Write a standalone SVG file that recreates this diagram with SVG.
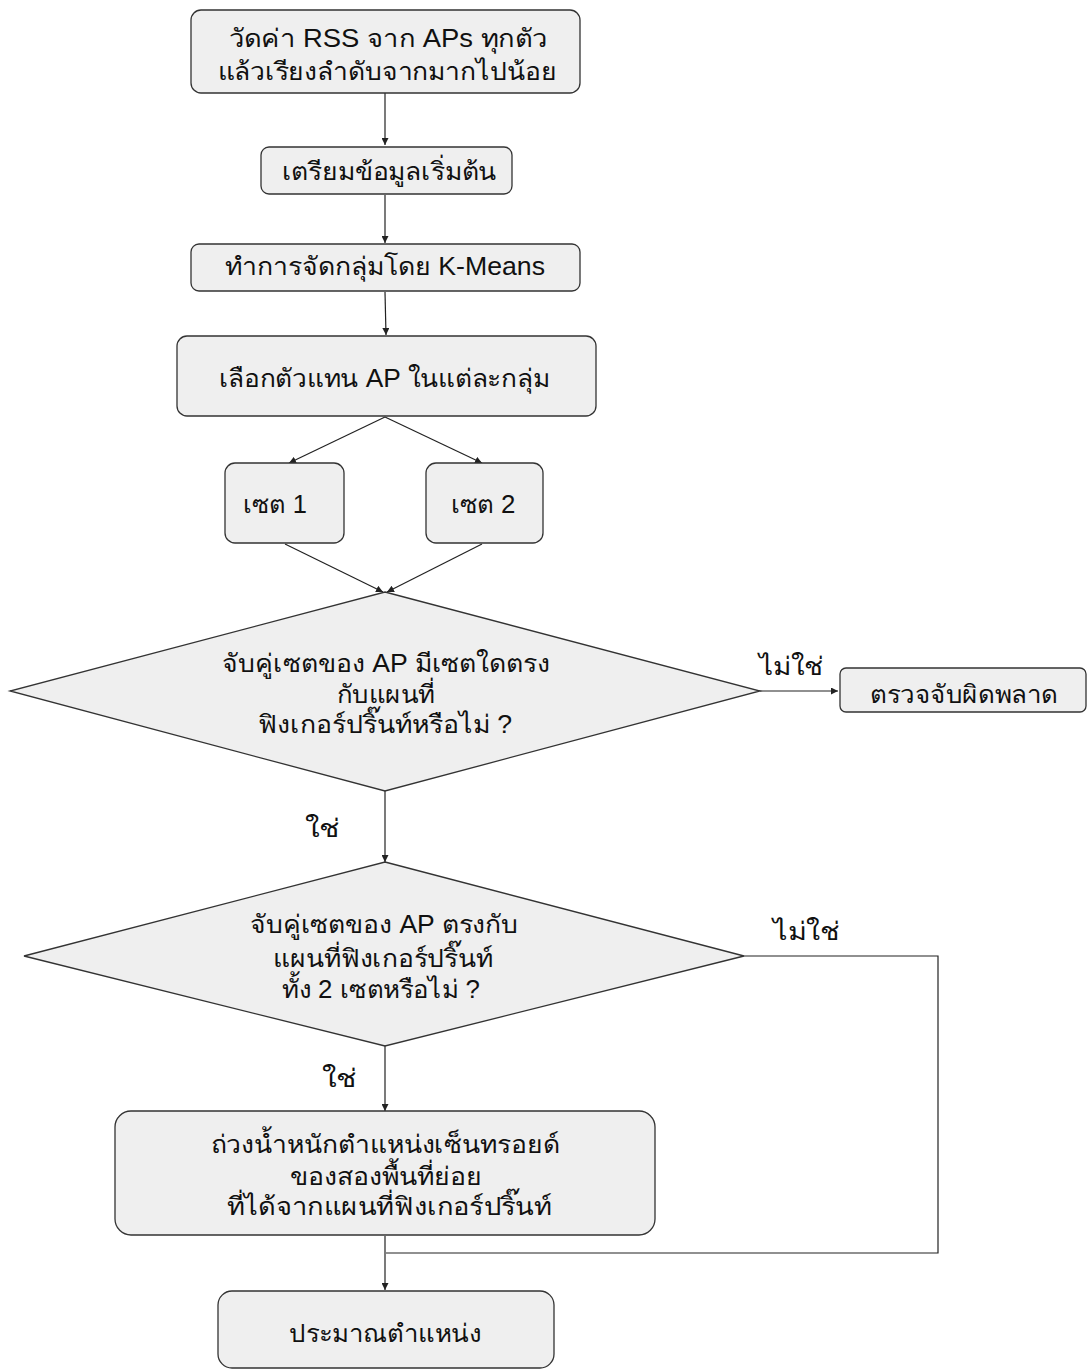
<svg xmlns="http://www.w3.org/2000/svg" width="1088" height="1371" viewBox="0 0 1088 1371">
<style>
.n{fill:#efefef;stroke:#333;stroke-width:1.3}
.t{font-family:"Liberation Sans","Noto Sans",sans-serif;font-size:25px;fill:#111;text-anchor:middle}
.c{fill:none;stroke:#222;stroke-width:1.2}
</style>
<defs>
<marker id="a" viewBox="0 0 10 10" refX="10" refY="5" markerWidth="7" markerHeight="7" orient="auto" markerUnits="userSpaceOnUse"><path d="M0,0L10,5L0,10z" fill="#222"/></marker>
</defs>
<rect width="1088" height="1371" fill="#fff"/>
<g id="connectors">
<path class="c" d="M385,93V145" marker-end="url(#a)"/>
<path class="c" d="M385,195V243" marker-end="url(#a)"/>
<path class="c" d="M385,292L386,335" marker-end="url(#a)"/>
<path class="c" d="M385,417L289,463" marker-end="url(#a)"/>
<path class="c" d="M385,417L482,463" marker-end="url(#a)"/>
<path class="c" d="M285,544L383,592" marker-end="url(#a)"/>
<path class="c" d="M482,544L387,592" marker-end="url(#a)"/>
<path class="c" d="M760,691H838" marker-end="url(#a)"/>
<path class="c" d="M385,791V862" marker-end="url(#a)"/>
<path class="c" d="M744,956H938V1253H386"/>
<path class="c" d="M385,1046V1111" marker-end="url(#a)"/>
<path class="c" d="M385,1236V1290" marker-end="url(#a)"/>
<text class="t" x="791" y="675" textLength="65" lengthAdjust="spacingAndGlyphs">ไม่ใช่</text>
<text class="t" x="322" y="837" textLength="35" lengthAdjust="spacingAndGlyphs">ใช่</text>
<text class="t" x="806" y="940" textLength="67" lengthAdjust="spacingAndGlyphs">ไม่ใช่</text>
<text class="t" x="339" y="1087" textLength="35" lengthAdjust="spacingAndGlyphs">ใช่</text>
</g>
<g id="n1"><rect class="n" x="191" y="10" width="389" height="83" rx="10"/><text class="t" x="388" y="47" textLength="319" lengthAdjust="spacingAndGlyphs">วัดค่า RSS จาก APs ทุกตัว</text><text class="t" x="387" y="80" textLength="339" lengthAdjust="spacingAndGlyphs">แล้วเรียงลำดับจากมากไปน้อย</text></g>
<g id="n2"><rect class="n" x="261" y="147" width="251" height="47" rx="8"/><text class="t" x="389" y="180" textLength="215" lengthAdjust="spacingAndGlyphs">เตรียมข้อมูลเริ่มต้น</text></g>
<g id="n3"><rect class="n" x="191" y="244" width="389" height="47" rx="8"/><text class="t" x="385" y="275" textLength="320" lengthAdjust="spacingAndGlyphs">ทำการจัดกลุ่มโดย K-Means</text></g>
<g id="n4"><rect class="n" x="177" y="336" width="419" height="80" rx="10"/><text class="t" x="384" y="387" textLength="331" lengthAdjust="spacingAndGlyphs">เลือกตัวแทน AP ในแต่ละกลุ่ม</text></g>
<g id="n5"><rect class="n" x="225" y="463" width="119" height="80" rx="10"/><text class="t" x="275" y="513" textLength="64" lengthAdjust="spacingAndGlyphs">เซต 1</text></g>
<g id="n6"><rect class="n" x="426" y="463" width="117" height="80" rx="10"/><text class="t" x="483" y="513" textLength="65" lengthAdjust="spacingAndGlyphs">เซต 2</text></g>
<g id="d1"><polygon class="n" points="385,592 760,691 385,791 10,691"/><text class="t" x="386" y="672" textLength="328" lengthAdjust="spacingAndGlyphs">จับคู่เซตของ AP มีเซตใดตรง</text><text class="t" x="386" y="703" textLength="98" lengthAdjust="spacingAndGlyphs">กับแผนที่</text><text class="t" x="385" y="733" textLength="254" lengthAdjust="spacingAndGlyphs">ฟิงเกอร์ปริ๊นท์หรือไม่ ?</text></g>
<g id="n7"><rect class="n" x="840" y="668" width="246" height="44" rx="6"/><text class="t" x="964" y="703" textLength="188" lengthAdjust="spacingAndGlyphs">ตรวจจับผิดพลาด</text></g>
<g id="d2"><polygon class="n" points="385,862 744,956 385,1046 24,956"/><text class="t" x="384" y="933" textLength="268" lengthAdjust="spacingAndGlyphs">จับคู่เซตของ AP ตรงกับ</text><text class="t" x="383" y="967" textLength="220" lengthAdjust="spacingAndGlyphs">แผนที่ฟิงเกอร์ปริ๊นท์</text><text class="t" x="381" y="998" textLength="198" lengthAdjust="spacingAndGlyphs">ทั้ง 2 เซตหรือไม่ ?</text></g>
<g id="n8"><rect class="n" x="115" y="1111" width="540" height="124" rx="16"/><text class="t" x="385" y="1153" textLength="349" lengthAdjust="spacingAndGlyphs">ถ่วงน้ำหนักตำแหน่งเซ็นทรอยด์</text><text class="t" x="386" y="1185" textLength="192" lengthAdjust="spacingAndGlyphs">ของสองพื้นที่ย่อย</text><text class="t" x="389" y="1215" textLength="325" lengthAdjust="spacingAndGlyphs">ที่ได้จากแผนที่ฟิงเกอร์ปริ๊นท์</text></g>
<g id="n9"><rect class="n" x="218" y="1291" width="336" height="77" rx="14"/><text class="t" x="385" y="1342" textLength="192" lengthAdjust="spacingAndGlyphs">ประมาณตำแหน่ง</text></g>
</svg>
